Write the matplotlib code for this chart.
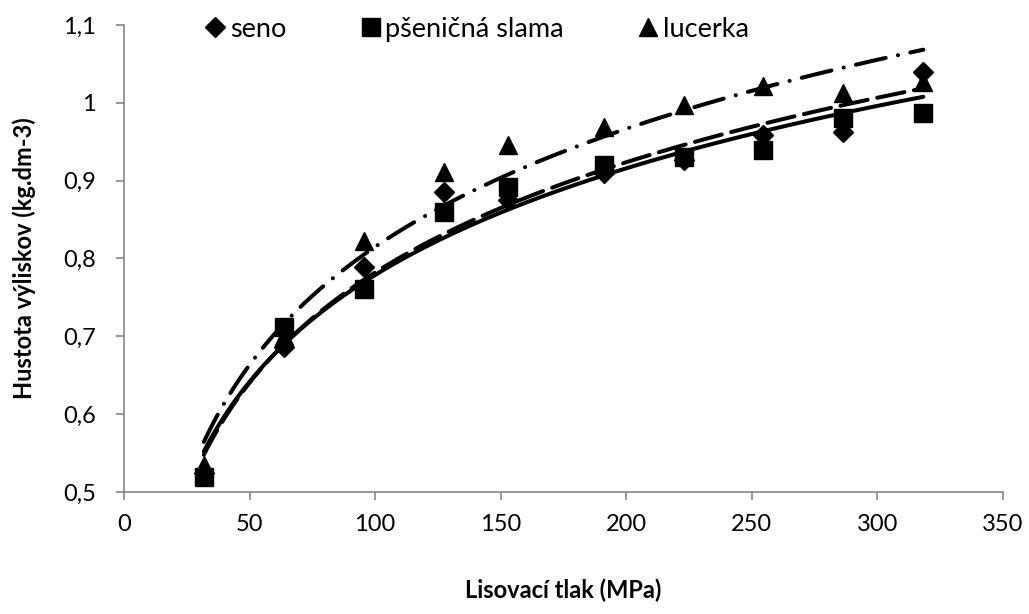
import numpy as np
import matplotlib
matplotlib.use("Agg")
import matplotlib.pyplot as plt
from matplotlib.lines import Line2D

plt.rcParams['font.family'] = ['Lato', 'DejaVu Sans']
plt.rcParams['lines.scale_dashes'] = False

pressure = [31.8, 63.7, 95.5, 127.3, 152.8, 191.0, 222.8, 254.6, 286.5, 318.3]
seno = [0.525, 0.686, 0.789, 0.886, 0.875, 0.910, 0.927, 0.959, 0.962, 1.040]
slama = [0.519, 0.712, 0.761, 0.860, 0.892, 0.920, 0.931, 0.940, 0.981, 0.987]
lucerka = [0.535, 0.700, 0.822, 0.911, 0.946, 0.969, 0.997, 1.021, 1.013, 1.027]

labels = ['seno', 'pšeničná slama', 'lucerka']
xticks = [0, 50, 100, 150, 200, 250, 300, 350]
yticks = [0.5, 0.6, 0.7, 0.8, 0.9, 1.0, 1.1]
yticklabels = ['0,5', '0,6', '0,7', '0,8', '0,9', '1', '1,1']

fig = plt.figure(figsize=(10.29, 6.14), dpi=100)
ax = fig.add_axes([0.1205, 0.1987, 0.8542, 0.7606])

x = np.array(pressure)
xs = np.linspace(x.min(), x.max(), 300)

def logfit(y):
    a, b = np.polyfit(np.log(x), np.array(y), 1)
    return a * np.log(xs) + b

lw = 2.9
# trendlines
ax.plot(xs, logfit(slama), color='black', lw=lw, solid_capstyle='round', zorder=2)
l1, = ax.plot(xs, logfit(seno), color='black', lw=lw, zorder=2)
l1.set_dashes([20, 7])
l1.set_dash_capstyle('round')
l2, = ax.plot(xs, logfit(lucerka), color='black', lw=lw, zorder=2)
l2.set_dashes([22, 9, 0.1, 9])
l2.set_dash_capstyle('round')

# markers
ax.plot(x, seno, linestyle='none', marker='D', ms=10, color='black', zorder=3)
ax.plot(x, slama, linestyle='none', marker='s', ms=12.5, color='black', zorder=3)
ax.plot(x, lucerka, linestyle='none', marker='^', ms=13, color='black', zorder=3)

ax.set_xlim(0, 350)
ax.set_ylim(0.5, 1.1)
ax.set_xticks(xticks)
ax.set_xticklabels([str(t) for t in xticks])
ax.set_yticks(yticks)
ax.set_yticklabels(yticklabels)
for s in ['top', 'right']:
    ax.spines[s].set_visible(False)
for s in ['left', 'bottom']:
    ax.spines[s].set_color('#868686')
    ax.spines[s].set_linewidth(1.2)
ax.tick_params(axis='both', colors='#868686', length=6, width=1.2, labelcolor='black', labelsize=17)
ax.tick_params(axis='x', pad=10)
ax.tick_params(axis='y', pad=14)

ax.set_xlabel('Lisovací tlak (MPa)', fontsize=17, fontweight='bold', labelpad=31)
ax.set_ylabel('Hustota výliskov (kg.dm-3)', fontsize=17, fontweight='bold', labelpad=20)

handles = [Line2D([], [], linestyle='none', marker='D', ms=10, color='black'),
           Line2D([], [], linestyle='none', marker='s', ms=13, color='black'),
           Line2D([], [], linestyle='none', marker='^', ms=13, color='black')]
fig.legend(handles, labels, loc='center', bbox_to_anchor=(0.462, 0.952), ncol=3,
           frameon=False, fontsize=19.5, handletextpad=0.05, columnspacing=2.6,
           handlelength=1.0)

fig.savefig('out.png', dpi=100)
